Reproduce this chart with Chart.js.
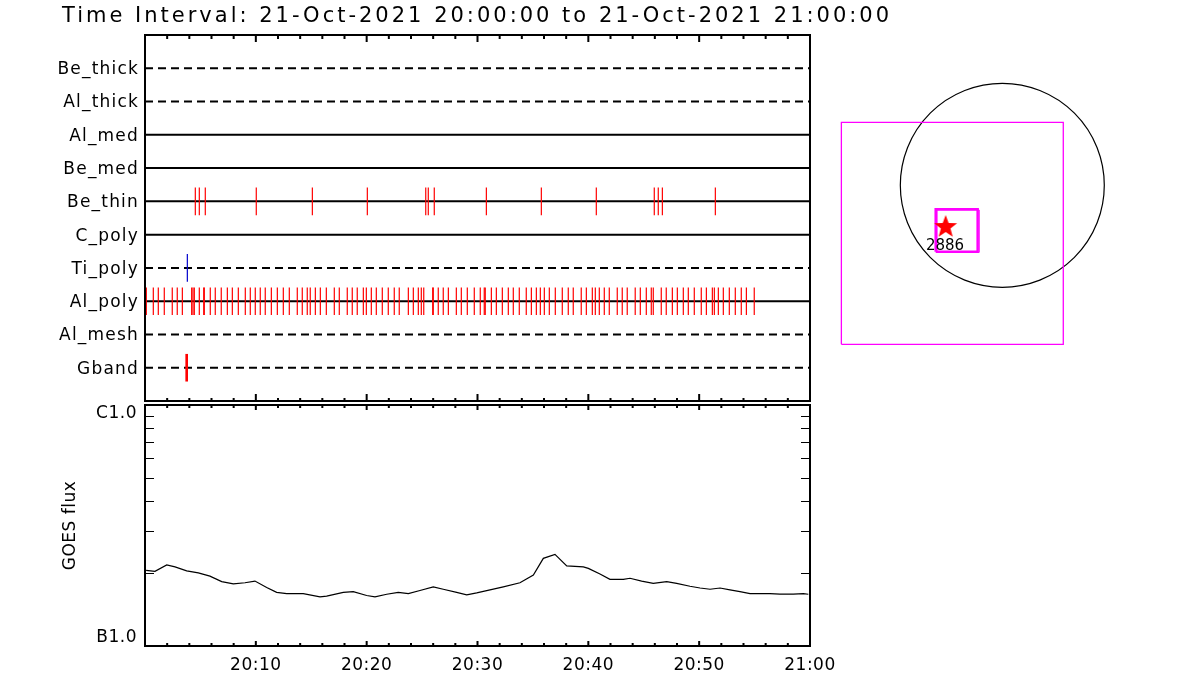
<!DOCTYPE html>
<html><head><meta charset="utf-8">
<script src="https://cdn.jsdelivr.net/npm/chart.js@4"></script>
<style>
html,body{margin:0;padding:0;background:#fff;width:1200px;height:700px;overflow:hidden;}
.box{position:absolute;}
#top{left:0;top:0;width:1200px;height:420px;}
#bot{left:0;top:380px;width:1200px;height:320px;}
#map{left:830px;top:70px;width:300px;height:300px;}
</style></head><body>
<div class="box" id="top"><canvas id="c1"></canvas></div>
<div class="box" id="bot"><canvas id="c2"></canvas></div>
<div class="box" id="map"><canvas id="c3"></canvas></div>
<script>
// ---------------- data ----------------
const titleText = 'Time Interval: 21-Oct-2021 20:00:00 to 21-Oct-2021 21:00:00';
const filters = ['Be_thick','Al_thick','Al_med','Be_med','Be_thin','C_poly','Ti_poly','Al_poly','Al_mesh','Gband'];
const dashedFilters = ['Be_thick','Al_thick','Ti_poly','Al_mesh','Gband'];
// exposure times, minutes after 20:00
const beThinMin = [4.54,4.90,5.44,10.04,15.10,20.06,25.33,25.56,26.10,30.80,35.76,40.72,45.95,46.31,46.68,51.46];
const alPolyMin = [0.12,0.75,1.20,1.74,2.46,2.91,3.37,4.21,4.33,4.45,4.90,5.30,5.35,5.89,6.34,6.88,7.43,7.88,8.42,9.05,
  9.50,9.95,10.40,10.85,11.40,11.94,12.48,13.02,13.74,14.19,14.64,14.91,15.37,15.82,16.36,17.08,17.53,18.25,18.70,19.15,
  19.70,19.97,20.42,20.87,21.41,21.95,22.49,22.94,23.76,24.21,24.66,24.93,25.15,25.96,26.01,26.46,26.91,27.37,28.09,28.54,
  29.08,29.71,30.25,30.61,30.70,31.25,31.70,32.24,32.78,33.23,33.77,34.40,34.86,35.31,35.67,36.03,36.48,37.02,37.65,38.19,
  38.64,39.36,39.82,40.36,40.63,40.99,41.44,41.89,42.61,43.06,43.51,44.23,44.69,45.23,45.68,45.86,46.58,47.03,47.58,48.03,
  48.57,49.02,49.56,50.19,50.65,51.19,51.37,51.73,52.18,52.72,53.26,53.80,54.26,54.97];
const tiPolyMin = [3.82];
const gbandMin = [3.76];
// GOES flux
const goesMin = [0.1,0.9,1.96,2.71,3.76,4.81,5.86,6.92,7.97,9.02,9.92,10.98,11.88,12.79,14.28,15.79,16.39,17.89,18.79,20.0,
  20.75,21.81,22.85,23.76,24.81,26.01,26.91,28.12,29.03,29.93,31.13,32.33,33.83,35.04,35.94,36.99,38.05,39.55,40.0,41.05,
  41.95,43.16,43.76,44.81,45.86,47.07,47.97,49.17,50.08,50.98,51.88,52.78,53.68,54.59,56.39,57.29,58.49,59.4,59.85];
const goesFlux = [2.06e-7,2.04e-7,2.17e-7,2.13e-7,2.05e-7,2.01e-7,1.95e-7,1.85e-7,1.81e-7,1.83e-7,1.86e-7,1.75e-7,1.67e-7,1.65e-7,1.65e-7,1.60e-7,1.61e-7,1.67e-7,1.68e-7,1.62e-7,
  1.60e-7,1.64e-7,1.67e-7,1.65e-7,1.70e-7,1.76e-7,1.72e-7,1.67e-7,1.63e-7,1.66e-7,1.71e-7,1.76e-7,1.83e-7,1.97e-7,2.31e-7,2.40e-7,2.15e-7,2.13e-7,2.10e-7,1.99e-7,
  1.89e-7,1.89e-7,1.91e-7,1.86e-7,1.82e-7,1.85e-7,1.82e-7,1.77e-7,1.74e-7,1.72e-7,1.74e-7,1.71e-7,1.68e-7,1.65e-7,1.65e-7,1.64e-7,1.64e-7,1.65e-7,1.64e-7];
const timeTickMin = [0,10,20,30,40,50,60];
const timeTickLabels = ['','20:10','20:20','20:30','20:40','20:50','21:00'];
const fluxTickValues = [1e-7,1e-6];
const fluxTickLabels = ['B1.0','C1.0'];
const fluxMinorValues = [2e-7,3e-7,4e-7,5e-7,6e-7,7e-7,8e-7,9e-7];
const yAxisTitle = 'GOES flux';
// solar map (arcsec)
const sunCenter = [0,0];
const sunRadius = 960;
const fovLargeX = [-1515,574], fovLargeY = [-1496,593];
const fovSmallAX = [-627,-232], fovSmallAY = [-625,-226];
const fovSmallBX = [-617,-217], fovSmallBY = [-631,-233];
const flareX = [-533], flareY = [-392];
const arLabels = ['2886'], arLabelX = [-539], arLabelY = [-568];

// ---------------- helpers ----------------
const FONT = 'DejaVu Sans';
function rect(xs, ys){ return [{x:xs[0],y:ys[0]},{x:xs[1],y:ys[0]},{x:xs[1],y:ys[1]},{x:xs[0],y:ys[1]},{x:xs[0],y:ys[0]}]; }
function makeStar(r, color){
  const c=document.createElement('canvas'); const s=Math.ceil(r*2+2); c.width=s; c.height=s;
  const g=c.getContext('2d'); g.beginPath();
  for(let k=0;k<10;k++){ const a=-Math.PI/2+k*Math.PI/5; const rr=k%2? r*0.42 : r; g.lineTo(s/2+rr*Math.cos(a), s/2+rr*Math.sin(a)); }
  g.closePath(); g.fillStyle=color; g.fill(); return c;
}

const idlFrame = {
  id:'idlFrame',
  beforeDraw(chart, args, o){ chart.ctx.letterSpacing = (o.spacing||0)+'px'; },
  afterDraw(chart, args, o){
    const {ctx, chartArea:a, scales} = chart;
    ctx.save();
    ctx.letterSpacing='0px';
    ctx.strokeStyle='#000'; ctx.lineWidth=2; ctx.lineCap='butt';
    ctx.strokeRect(a.left, a.top, a.right-a.left, a.bottom-a.top);
    const x = scales.x;
    for(let m=0;m<=60;m+=2){
      const px = x.getPixelForValue(m); const major = m%10===0;
      const lt = major? o.topMajor : o.topMinor, lb = major? o.botMajor : o.botMinor;
      ctx.beginPath();
      ctx.moveTo(px, a.top); ctx.lineTo(px, a.top+lt);
      ctx.moveTo(px, a.bottom); ctx.lineTo(px, a.bottom-lb);
      ctx.stroke();
    }
    if(o.logMinor){
      const y = scales.y; ctx.lineWidth=1;
      fluxMinorValues.forEach(v=>{
        const py = Math.round(y.getPixelForValue(v))+0.5;
        ctx.beginPath(); ctx.moveTo(a.left, py); ctx.lineTo(a.left+9, py);
        ctx.moveTo(a.right, py); ctx.lineTo(a.right-9, py); ctx.stroke();
      });
    }
    if(o.title){
      ctx.font = '21px "'+FONT+'"'; ctx.fillStyle='#000'; ctx.textAlign='left'; ctx.textBaseline='alphabetic';
      ctx.letterSpacing='3.0px';
      ctx.fillText(o.title, 62, 22);
    }
    ctx.restore();
    ctx.letterSpacing='0px';
  }
};

// ---------------- top panel ----------------
const topDatasets = [];
filters.forEach((f,i)=>{
  topDatasets.push({data:[{x:0,y:i},{x:60,y:i}], showLine:true, borderColor:'#000', borderWidth:2,
    borderDash: dashedFilters.includes(f)? [8,5] : [], pointRadius:0, order:1});
});
function events(times, row, color, width){
  return {data: times.map(t=>({x:t, y:filters.indexOf(row)})), showLine:false, pointStyle:'line', pointRotation:90,
    pointRadius:13.8, borderColor:color, pointBorderColor:color, pointBorderWidth:width, borderWidth:width, order:0};
}
topDatasets.push(events(beThinMin,'Be_thin','#ff0000',1.2));
topDatasets.push(events(alPolyMin,'Al_poly','#ff0000',1.2));
topDatasets.push(events(tiPolyMin,'Ti_poly','#0000cc',1.2));
topDatasets.push(events(gbandMin,'Gband','#ff0000',2.6));

new Chart(document.getElementById('c1'), {
  type:'scatter',
  data:{datasets: topDatasets},
  options:{
    responsive:true, maintainAspectRatio:false, animation:false, events:[],
    layout:{autoPadding:false, padding:{top:35,right:390,bottom:19,left:0}},
    plugins:{legend:{display:false}, tooltip:{enabled:false},
      idlFrame:{spacing:1.2, topMajor:7, topMinor:4, botMajor:7, botMinor:3, title:titleText}},
    scales:{
      x:{type:'linear', display:false, min:0, max:60},
      y:{type:'linear', min:-1, max:10, reverse:true,
        afterFit:s=>{s.width=145;},
        afterBuildTicks:s=>{s.ticks = filters.map((_,i)=>({value:i}));},
        grid:{display:false, drawTicks:false}, border:{display:false},
        ticks:{autoSkip:false, padding:6, labelOffset:1.5, color:'#000', font:{family:FONT, size:17},
          callback:v=>filters[Math.round(v)]}}
    }
  },
  plugins:[idlFrame]
});

// ---------------- bottom panel ----------------
new Chart(document.getElementById('c2'), {
  type:'scatter',
  data:{datasets:[{data: goesMin.map((t,i)=>({x:t, y:goesFlux[i]})), showLine:true, borderColor:'#000', borderWidth:1.2, pointRadius:0}]},
  options:{
    responsive:true, maintainAspectRatio:false, animation:false, events:[],
    layout:{autoPadding:false, padding:{top:21,right:390,bottom:0,left:0}},
    plugins:{legend:{display:false}, tooltip:{enabled:false},
      idlFrame:{spacing:0.5, topMajor:5, topMinor:3, botMajor:5, botMinor:3, logMinor:true}},
    scales:{
      x:{type:'linear', min:0, max:60,
        afterFit:s=>{s.height=54;},
        afterBuildTicks:s=>{s.ticks = timeTickMin.map(v=>({value:v}));},
        grid:{display:false, drawTicks:false}, border:{display:false},
        ticks:{autoSkip:false, maxRotation:0, padding:9, color:'#000', font:{family:FONT, size:17},
          callback:(v,i)=>timeTickLabels[i]}},
      y:{type:'logarithmic', min:1e-7, max:1e-6,
        afterFit:s=>{s.width=145;},
        afterBuildTicks:s=>{s.ticks = fluxTickValues.map(v=>({value:v}));},
        grid:{display:false, drawTicks:false}, border:{display:false},
        title:{display:true, text:yAxisTitle, color:'#000', font:{family:FONT, size:17}, padding:{top:60,bottom:0}},
        ticks:{autoSkip:false, padding:8, color:'#000', font:{family:FONT, size:17, lineHeight:1.0},
          callback:(v,i)=> i===0 ? [fluxTickLabels[0], ''] : ['', fluxTickLabels[1]]}}
    }
  },
  plugins:[idlFrame]
});

// ---------------- solar map ----------------
const mapDecor = {
  id:'mapDecor',
  beforeDatasetsDraw(chart){
    const {ctx, scales:{x,y}} = chart;
    const cx = x.getPixelForValue(sunCenter[0]), cy = y.getPixelForValue(sunCenter[1]);
    const r = x.getPixelForValue(sunCenter[0]+sunRadius) - cx;
    ctx.save(); ctx.beginPath(); ctx.arc(cx, cy, r, 0, Math.PI*2);
    ctx.strokeStyle='#000'; ctx.lineWidth=1.2; ctx.stroke(); ctx.restore();
  },
  afterDatasetsDraw(chart){
    const {ctx, scales:{x,y}} = chart;
    ctx.save(); ctx.font='15px "'+FONT+'"'; ctx.fillStyle='#000'; ctx.textAlign='center'; ctx.textBaseline='middle';
    arLabels.forEach((t,i)=>ctx.fillText(t, x.getPixelForValue(arLabelX[i]), y.getPixelForValue(arLabelY[i])));
    ctx.restore();
  }
};
new Chart(document.getElementById('c3'), {
  type:'scatter',
  data:{datasets:[
    {data:rect(fovLargeX, fovLargeY), showLine:true, borderColor:'#ff00ff', borderWidth:1.3, pointRadius:0},
    {data:rect(fovSmallAX, fovSmallAY), showLine:true, borderColor:'#ff00ff', borderWidth:2.5, pointRadius:0},
    {data:rect(fovSmallBX, fovSmallBY), showLine:true, borderColor:'#ff00ff', borderWidth:1, pointRadius:0},
    {data:flareX.map((v,i)=>({x:v, y:flareY[i]})), showLine:false, pointStyle:makeStar(12,'#ff0000'), pointRadius:12, order:-1}
  ]},
  options:{
    responsive:true, maintainAspectRatio:false, animation:false, events:[],
    layout:{autoPadding:false, padding:0},
    plugins:{legend:{display:false}, tooltip:{enabled:false}},
    scales:{
      x:{type:'linear', display:false, min:-1622, max:1202},
      y:{type:'linear', display:false, min:-1738, max:1085}
    }
  },
  plugins:[mapDecor]
});
</script>
</body></html>
